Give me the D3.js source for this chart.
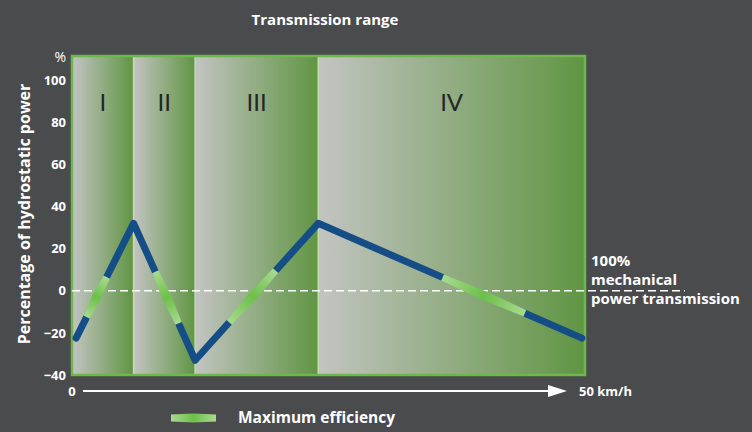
<!DOCTYPE html>
<html>
<head>
<meta charset="utf-8">
<script src="https://cdn.jsdelivr.net/npm/d3@7"></script>
<style>
  body { margin: 0; background: #4a4b4d; }
  svg { display: block; font-family: "Open Sans", "Noto Sans", sans-serif; }
</style>
</head>
<body>
<div id="chart"></div>
<script>
// transmission ranges (km/h boundaries)
var rangeBreaks = [0, 6, 12, 24, 50];
var rangeNames = ["I", "II", "III", "IV"];

// hydrostatic power share along speed
var lineSpeed = [0.4, 6, 12, 24, 49.7];
var linePower = [-22.5, 32, -33, 32, -22.5];

// maximum efficiency part of each leg, as power values [from, to]
var effFrom = [-12.5, 9, -15, 6.3];
var effTo = [6.5, -15.5, 9.5, -10.7];

var yTicks = [-40, -20, 0, 20, 40, 60, 80, 100];

var width = 752, height = 432;
var plotLeft = 72, plotRight = 585, plotTop = 56, plotBottom = 375;

var svg = d3.select("#chart").append("svg")
	.attr("width", width)
	.attr("height", height);

var x = d3.scaleLinear().domain([0, 50]).range([plotLeft, plotRight]);
var y = d3.scaleLinear().domain([-40, 100]).range([plotBottom, 80]);

var defs = svg.append("defs");

var bg = defs.append("linearGradient").attr("id", "bg")
	.attr("x1", 0).attr("x2", 1).attr("y1", 0).attr("y2", 0);
bg.append("stop").attr("offset", "0%").attr("stop-color", "#c3c4c2");
bg.append("stop").attr("offset", "100%").attr("stop-color", "#609543");

svg.append("text")
	.attr("x", 325).attr("y", 25)
	.attr("text-anchor", "middle")
	.attr("fill", "#fff")
	.attr("font-size", 15)
	.attr("font-weight", "bold")
	.text("Transmission range");

// range backgrounds
svg.selectAll(".range")
	.data(rangeNames).enter()
	.append("rect")
	.attr("class", "range")
	.attr("x", function(d, i){ return x(rangeBreaks[i]); })
	.attr("width", function(d, i){ return x(rangeBreaks[i + 1]) - x(rangeBreaks[i]); })
	.attr("y", plotTop)
	.attr("height", plotBottom - plotTop)
	.attr("fill", "url(#bg)");

svg.selectAll(".divider")
	.data(rangeBreaks.slice(1, -1)).enter()
	.append("line")
	.attr("x1", function(d){ return x(d); })
	.attr("x2", function(d){ return x(d); })
	.attr("y1", plotTop).attr("y2", plotBottom)
	.attr("stroke", "#c4dcb2")
	.attr("stroke-width", 1.5);

svg.append("rect")
	.attr("x", plotLeft).attr("y", plotTop)
	.attr("width", plotRight - plotLeft).attr("height", plotBottom - plotTop)
	.attr("fill", "none")
	.attr("stroke", "#6cb84b")
	.attr("stroke-width", 2.5);

svg.selectAll(".roman")
	.data(rangeNames).enter()
	.append("text")
	.attr("x", function(d, i){ return (x(rangeBreaks[i]) + x(rangeBreaks[i + 1])) / 2; })
	.attr("y", 111)
	.attr("text-anchor", "middle")
	.attr("fill", "#262626")
	.attr("font-size", 24)
	.attr("font-family", "Lato, sans-serif")
	.text(function(d){ return d; });

// y axis
var yAxis = svg.append("g")
	.attr("transform", "translate(" + (plotLeft - 6) + ",0)")
	.call(d3.axisLeft(y).tickValues(yTicks).tickSize(0).tickPadding(0));
yAxis.select(".domain").remove();
yAxis.selectAll("text")
	.attr("fill", "#fff")
	.attr("font-size", 13)
	.attr("font-weight", "bold")
	.attr("font-family", "'Open Sans', sans-serif");

svg.append("text")
	.attr("x", plotLeft - 6).attr("y", 62)
	.attr("text-anchor", "end")
	.attr("fill", "#fff")
	.attr("font-size", 14)
	.text("%");

svg.append("text")
	.attr("transform", "translate(30," + 214 + ") rotate(-90)")
	.attr("text-anchor", "middle")
	.attr("fill", "#fff")
	.attr("font-size", 16)
	.attr("font-weight", "bold")
	.text("Percentage of hydrostatic power");

// zero line
svg.append("line")
	.attr("x1", plotLeft).attr("x2", 685)
	.attr("y1", y(0)).attr("y2", y(0))
	.attr("stroke", "#fff")
	.attr("stroke-width", 1.5)
	.attr("stroke-dasharray", "8,4");

svg.append("text")
	.attr("x", 591).attr("y", 266)
	.attr("fill", "#fff")
	.attr("font-size", 15)
	.attr("font-weight", "bold")
	.selectAll("tspan")
	.data(["100%", "mechanical", "power transmission"]).enter()
	.append("tspan")
	.attr("x", 591)
	.attr("dy", function(d, i){ return i ? 19 : 0; })
	.text(function(d){ return d; });

// power line
var pts = lineSpeed.map(function(s, i){ return [x(s), y(linePower[i])]; });
svg.append("path")
	.attr("d", d3.line()(pts))
	.attr("fill", "none")
	.attr("stroke", "#154e86")
	.attr("stroke-width", 7)
	.attr("stroke-linecap", "round")
	.attr("stroke-linejoin", "round");

// efficiency segments
function effShape(x1, y1, x2, y2, w1, w2) {
	var dx = x2 - x1, dy = y2 - y1, len = Math.sqrt(dx * dx + dy * dy);
	var nx = -dy / len, ny = dx / len;
	var mx = (x1 + x2) / 2, my = (y1 + y2) / 2;
	var p = [
		[x1 + nx * w1, y1 + ny * w1],
		[mx + nx * w2, my + ny * w2],
		[x2 + nx * w1, y2 + ny * w1],
		[x2 - nx * w1, y2 - ny * w1],
		[mx - nx * w2, my - ny * w2],
		[x1 - nx * w1, y1 - ny * w1]
	];
	return "M" + p.map(function(q){ return q.join(","); }).join("L") + "Z";
}

function addGrad(id, x1, y1, x2, y2) {
	var g = defs.append("linearGradient").attr("id", id)
		.attr("gradientUnits", "userSpaceOnUse")
		.attr("x1", x1).attr("y1", y1).attr("x2", x2).attr("y2", y2);
	g.append("stop").attr("offset", "0%").attr("stop-color", "#a9da91");
	g.append("stop").attr("offset", "50%").attr("stop-color", "#6cc049");
	g.append("stop").attr("offset", "100%").attr("stop-color", "#a9da91");
}

effFrom.forEach(function(v0, i){
	var s0 = lineSpeed[i], s1 = lineSpeed[i + 1];
	var p0 = linePower[i], p1 = linePower[i + 1];
	var t0 = (v0 - p0) / (p1 - p0), t1 = (effTo[i] - p0) / (p1 - p0);
	var xa = x(s0 + (s1 - s0) * t0), ya = y(v0);
	var xb = x(s0 + (s1 - s0) * t1), yb = y(effTo[i]);
	addGrad("eff" + i, xa, ya, xb, yb);
	svg.append("path")
		.attr("d", effShape(xa, ya, xb, yb, 3.6, 4.6))
		.attr("fill", "url(#eff" + i + ")");
});

// x axis arrow
svg.append("text")
	.attr("x", 72).attr("y", 396)
	.attr("text-anchor", "middle")
	.attr("fill", "#fff")
	.attr("font-size", 13)
	.attr("font-weight", "bold")
	.text("0");

svg.append("line")
	.attr("x1", 83).attr("x2", 552)
	.attr("y1", 391).attr("y2", 391)
	.attr("stroke", "#fff")
	.attr("stroke-width", 2);

svg.append("path")
	.attr("d", "M548,385L567,391L548,397Z")
	.attr("fill", "#fff");

svg.append("text")
	.attr("x", 579).attr("y", 396)
	.attr("fill", "#fff")
	.attr("font-size", 13)
	.attr("font-weight", "bold")
	.text("50 km/h");

// legend
addGrad("legGrad", 171, 418, 216, 418);
svg.append("path")
	.attr("d", effShape(171, 418, 216, 418, 3.6, 4.6))
	.attr("fill", "url(#legGrad)");

svg.append("text")
	.attr("x", 238).attr("y", 423)
	.attr("fill", "#fff")
	.attr("font-size", 15.5)
	.attr("font-weight", "bold")
	.text("Maximum efficiency");
</script>
</body>
</html>
